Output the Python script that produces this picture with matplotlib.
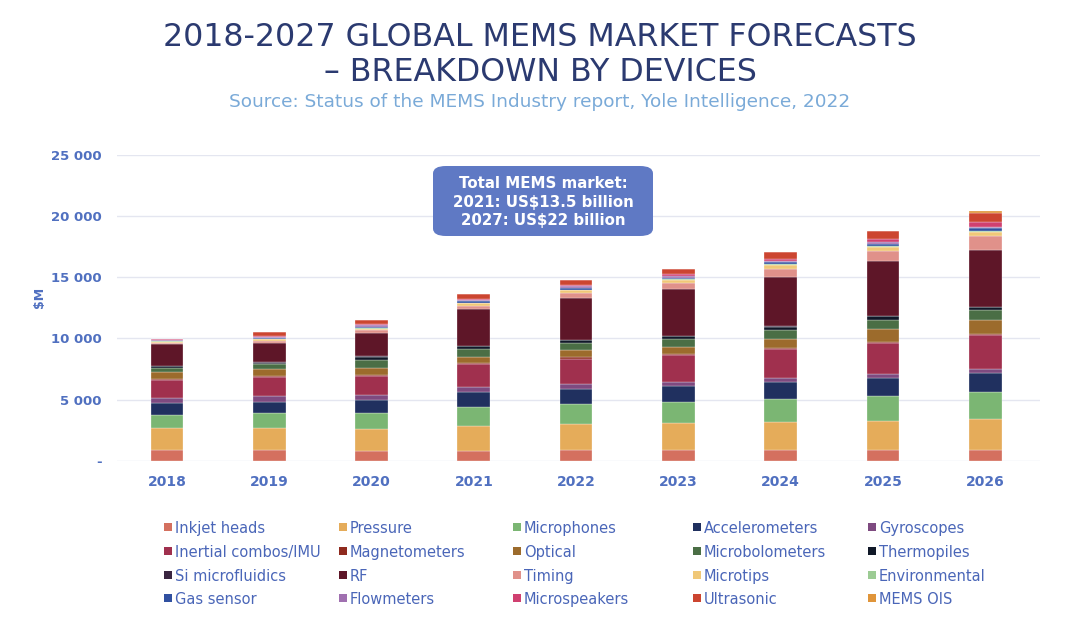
import numpy as np
import matplotlib
matplotlib.use("Agg")
import matplotlib.pyplot as plt
from matplotlib.patches import FancyBboxPatch, Rectangle

plt.rcParams["font.family"] = ["DejaVu Sans"]

years = ["2018", "2019", "2020", "2021", "2022", "2023", "2024", "2025", "2026"]

devices = [
    "Inkjet heads", "Pressure", "Microphones", "Accelerometers", "Gyroscopes",
    "Inertial combos/IMU", "Magnetometers", "Optical", "Microbolometers", "Thermopiles",
    "Si microfluidics", "RF", "Timing", "Microtips", "Environmental",
    "Gas sensor", "Flowmeters", "Microspeakers", "Ultrasonic", "MEMS OIS",
]

# $M per year
inkjet = [875, 875, 818, 818, 875, 875, 877, 877, 877]
pressure = [1775, 1775, 1750, 2044, 2126, 2184, 2262, 2402, 2541]
microphones = [1087, 1226, 1357, 1529, 1611, 1741, 1919, 2049, 2181]
accelerometers = [957, 949, 1039, 1226, 1252, 1284, 1360, 1451, 1590]
gyroscopes = [458, 466, 384, 385, 384, 352, 328, 328, 328]
inertial = [1448, 1530, 1579, 1880, 2094, 2208, 2353, 2508, 2729]
magnetometers = [100, 100, 100, 100, 100, 100, 100, 100, 100]
optical = [578, 554, 579, 522, 611, 579, 777, 1080, 1130]
microbolometers = [328, 409, 629, 605, 597, 630, 738, 738, 820]
thermopiles = [139, 130, 270, 240, 191, 240, 240, 265, 240]
si_microfluidics = [30, 30, 30, 30, 30, 30, 30, 30, 30]
rf = [1744, 1606, 1933, 3000, 3429, 3794, 4041, 4478, 4675]
timing = [120, 150, 200, 270, 409, 540, 689, 878, 1172]
microtips = [90, 120, 130, 221, 221, 221, 270, 270, 271]
environmental = [40, 40, 50, 60, 70, 70, 80, 90, 90]
gas_sensor = [50, 80, 100, 110, 120, 130, 150, 190, 238]
flowmeters = [70, 90, 150, 120, 130, 140, 150, 180, 120]
microspeakers = [50, 70, 60, 100, 120, 140, 150, 250, 372]
ultrasonic = [30, 350, 350, 350, 378, 419, 536, 619, 737]
mems_ois = [0, 0, 0, 0, 0, 0, 0, 40, 164]

series = [inkjet, pressure, microphones, accelerometers, gyroscopes,
          inertial, magnetometers, optical, microbolometers, thermopiles,
          si_microfluidics, rf, timing, microtips, environmental,
          gas_sensor, flowmeters, microspeakers, ultrasonic, mems_ois]

colors = [
    "#D4705F", "#E5AC5A", "#7BB673", "#20305F", "#7E4A80",
    "#A0304E", "#8F2A1E", "#9C6B2C", "#4A6E45", "#101828",
    "#3A2540", "#5E1628", "#E0918A", "#F0C878", "#9CCB94",
    "#3050A0", "#A070B0", "#D04070", "#CC4530", "#E0953A",
]

BLUE = "#5070C0"

fig = plt.figure(figsize=(10.8, 6.18), dpi=100)
ax = fig.add_axes([0.1083, 0.2545, 0.855, 0.4947])

x = np.arange(len(years))
bottom = np.zeros(len(years))
for vals, c in zip(series, colors):
    ax.bar(x, vals, 0.32, bottom=bottom, color=c, edgecolor="white", linewidth=0.2, zorder=3)
    bottom += np.array(vals)

ax.set_xlim(-0.49, 8.54)
ax.set_ylim(0, 25000)
ax.set_yticks(range(0, 25001, 5000))
ax.set_yticklabels(["-", "5 000", "10 000", "15 000", "20 000", "25 000"])
ax.set_xticks(x)
ax.set_xticklabels(years)
ax.grid(axis="y", color="#E4E6F0", linewidth=1, zorder=0)
for s in ax.spines.values():
    s.set_visible(False)
ax.tick_params(length=0, colors=BLUE, labelsize=10)
ax.tick_params(axis="y", pad=11, labelsize=9.5)
ax.tick_params(axis="x", pad=10)
for lbl in ax.get_xticklabels() + ax.get_yticklabels():
    lbl.set_fontweight("bold")
ax.set_ylabel("\\$M", color=BLUE, fontsize=9, fontweight="bold")
ax.yaxis.set_label_coords(-0.077, 0.535)

fig.text(0.5, 0.940, "2018-2027 GLOBAL MEMS MARKET FORECASTS", ha="center", va="center",
         fontsize=22.8, color="#2B3A70")
fig.text(0.5, 0.883, "\u2013 BREAKDOWN BY DEVICES", ha="center", va="center",
         fontsize=22.8, color="#2B3A70")
fig.text(0.5, 0.835, "Source: Status of the MEMS Industry report, Yole Intelligence, 2022",
         ha="center", va="center", fontsize=13.3, color="#7AAAD8")

# annotation box
box = FancyBboxPatch((433 / 1080, 1 - 236 / 618), 220 / 1080, 70 / 618,
                     boxstyle="round,pad=0,rounding_size=0.012", transform=fig.transFigure,
                     facecolor="#5F79C4", edgecolor="none", zorder=5)
fig.patches.append(box)
fig.text(543 / 1080, 1 - 202 / 618,
         "Total MEMS market:\n2021: US$13.5 billion\n2027: US$22 billion",
         ha="center", va="center", color="white", fontsize=10.8, fontweight="bold",
         linespacing=1.3, zorder=6)

# legend, row by row
col_x = [168, 343, 517, 697, 872]
row_y = [527, 551, 575, 598]
for i, (name, c) in enumerate(zip(devices, colors)):
    cx = col_x[i % 5]
    cy = row_y[i // 5]
    fig.patches.append(Rectangle(((cx - 4) / 1080, 1 - (cy + 4) / 618), 8 / 1080, 8 / 618,
                                 transform=fig.transFigure, facecolor=c, edgecolor="none"))
    fig.text((cx + 7) / 1080, 1 - cy / 618, name, ha="left", va="center_baseline",
             fontsize=10.5, color="#4A66B8")

fig.savefig("out.png", dpi=100)
